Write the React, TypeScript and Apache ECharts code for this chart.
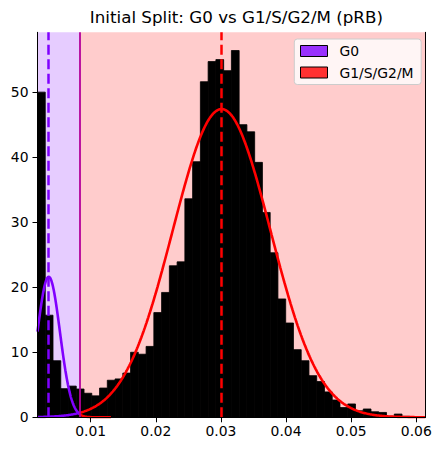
import React, { useEffect, useRef } from "react";
import * as echarts from "echarts";

// ---- data ----
const X_MIN = 0.00183;
const X_MAX = 0.06138;
const Y_MAX = 59.2;
const BIN_COUNT = 50;
// histogram densities (50 equal bins from X_MIN to X_MAX)
const binHeights = [
  50.0, 15.7, 8.7, 4.4, 4.8, 4.35, 3.7, 3.3, 4.5, 5.7,
  5.9, 6.8, 10.0, 9.7, 10.9, 16.1, 19.2, 23.3, 23.9, 33.6,
  39.3, 51.6, 54.7, 55.0, 53.3, 56.4, 45.0, 43.9, 39.2, 31.5,
  25.3, 18.2, 14.5, 10.4, 8.7, 6.4, 5.5, 3.9, 2.66, 1.5,
  2.05, 1.0, 1.28, 0.85, 0.75, 0.15, 0.5, 0.15, 0.1, 0.05,
];
// fitted gaussian components: [mean, sd, weight]
const g0Params = [0.00355, 0.00173, 0.0937];
const g1Params = [0.0301, 0.0075, 0.891];
const g0CurveEnd = 0.0131;
const threshold = 0.00836;
const xTickValues = [0.01, 0.02, 0.03, 0.04, 0.05, 0.06];
const yTickValues = [0, 10, 20, 30, 40, 50];
const legendNames = ["G0", "G1/S/G2/M"];
const titleText = "Initial Split: G0 vs G1/S/G2/M (pRB)";

const PURPLE = "#8000ff";
const RED = "#ff0000";
const FONT = "DejaVu Sans";

function pdf(x: number, p: number[]) {
  const [m, s, w] = p;
  return (w / (s * Math.sqrt(2 * Math.PI))) * Math.exp(-((x - m) * (x - m)) / (2 * s * s));
}

function curve(p: number[], from: number, to: number, n: number) {
  const pts: number[][] = [];
  for (let i = 0; i <= n; i++) {
    const x = from + ((to - from) * i) / n;
    pts.push([x, pdf(x, p)]);
  }
  return pts;
}

export default function App() {
  const ref = useRef<HTMLDivElement>(null);
  useEffect(() => {
    document.body.style.margin = "0";
    if (!ref.current) return;
    const chart = echarts.init(ref.current, undefined, { renderer: "svg" });
    const binW = (X_MAX - X_MIN) / BIN_COUNT;
    const histData = binHeights.map((h, i) => [X_MIN + i * binW, X_MIN + (i + 1) * binW, h]);

    const g0Left = curve(g0Params, X_MIN, threshold, 200);
    const g0Right = curve(g0Params, threshold, g0CurveEnd, 100);
    const g1Left = curve(g1Params, X_MIN, threshold, 100);
    const g1Right = curve(g1Params, threshold, X_MAX, 400);

    const lineSeries = (name: string, data: number[][], color: string, extra: any = {}) => ({
      type: "line",
      name,
      data,
      showSymbol: false,
      symbol: "none",
      silent: true,
      z: 3,
      lineStyle: { color, width: 2.6 },
      itemStyle: { color },
      ...extra,
    });

    const axisCommon = {
      type: "value",
      z: 10,
      splitLine: { show: false },
      axisLine: { show: true, lineStyle: { color: "#000", width: 1 } },
    };

    const dash = [10, 4.5];

    chart.setOption({
      animation: false,
      textStyle: { fontFamily: FONT },
      title: {
        text: titleText,
        left: 231.4,
        textAlign: "center",
        top: 3,
        textStyle: { fontFamily: FONT, fontSize: 16.7, fontWeight: "normal", color: "#000" },
      },
      grid: { left: 37.5, right: 15.7, top: 32.3, bottom: 33.7 },
      legend: {
        orient: "vertical",
        left: 294.3,
        top: 39,
        padding: [5, 7.6, 5, 5.7],
        itemWidth: 27,
        itemHeight: 11,
        itemGap: 7.5,
        backgroundColor: "rgba(255,255,255,0.8)",
        borderColor: "#cccccc",
        borderWidth: 1,
        borderRadius: 3,
        selectedMode: false,
        textStyle: { fontFamily: FONT, fontSize: 13.9, color: "#000", lineHeight: 14, padding: [0, 0, 0, 7] },
        data: [
          { name: legendNames[0], icon: "rect", itemStyle: { color: "rgba(128,0,255,0.8)", borderColor: "#000", borderWidth: 1 } },
          { name: legendNames[1], icon: "rect", itemStyle: { color: "rgba(255,0,0,0.8)", borderColor: "#000", borderWidth: 1 } },
        ],
      },
      xAxis: [
        {
          ...axisCommon,
          min: X_MIN,
          max: X_MAX,
          position: "bottom",
          axisTick: { show: true, length: 5, customValues: xTickValues, lineStyle: { color: "#000" } },
          axisLabel: {
            customValues: xTickValues,
            formatter: (v: number) => v.toFixed(2),
            color: "#000",
            fontSize: 13.9,
            fontFamily: FONT,
            margin: 7,
          },
        },
        {
          ...axisCommon,
          min: X_MIN,
          max: X_MAX,
          position: "top",
          axisTick: { show: false },
          axisLabel: { show: false },
        },
      ],
      yAxis: [
        {
          ...axisCommon,
          min: 0,
          max: Y_MAX,
          position: "left",
          axisTick: { show: true, length: 5, customValues: yTickValues, lineStyle: { color: "#000" } },
          axisLabel: {
            customValues: yTickValues,
            formatter: (v: number) => String(v),
            color: "#000",
            fontSize: 13.9,
            fontFamily: FONT,
            margin: 9,
          },
        },
        {
          ...axisCommon,
          min: 0,
          max: Y_MAX,
          position: "right",
          axisTick: { show: false },
          axisLabel: { show: false },
        },
      ],
      series: [
        {
          type: "custom",
          name: "hist",
          silent: true,
          z: 2,
          data: histData,
          encode: { x: [0, 1], y: 2 },
          renderItem: (params: any, api: any) => {
            const p0 = api.coord([api.value(0), api.value(2)]);
            const p1 = api.coord([api.value(1), 0]);
            return {
              type: "rect",
              shape: { x: p0[0], y: p0[1], width: p1[0] - p0[0], height: p1[1] - p0[1] },
              style: { fill: "#000", stroke: "#000", lineWidth: 0.8 },
            };
          },
          markArea: {
            silent: true,
            data: [
              [{ xAxis: X_MIN, itemStyle: { color: "rgba(128,0,255,0.2)" } }, { xAxis: threshold }],
              [{ xAxis: threshold, itemStyle: { color: "rgba(255,0,0,0.2)" } }, { xAxis: X_MAX }],
            ],
          },
        },
        lineSeries(legendNames[0], g0Left, PURPLE),
        lineSeries("g0-right", g0Right, RED, {
          markLine: {
            silent: true,
            symbol: "none",
            precision: 8,
            label: { show: false },
            data: [
              { xAxis: g0Params[0], lineStyle: { color: PURPLE, width: 2.5, type: dash } },
              { xAxis: g1Params[0], lineStyle: { color: RED, width: 2.5, type: dash } },
              { xAxis: threshold, lineStyle: { color: "#b4009a", width: 1.8, type: "solid" } },
            ],
          },
        }),
        lineSeries("g1-left", g1Left, PURPLE),
        lineSeries(legendNames[1], g1Right, RED),
      ],
    });
    return () => chart.dispose();
  }, []);
  return <div ref={ref} style={{ width: 441, height: 451, background: "#fff" }} />;
}
